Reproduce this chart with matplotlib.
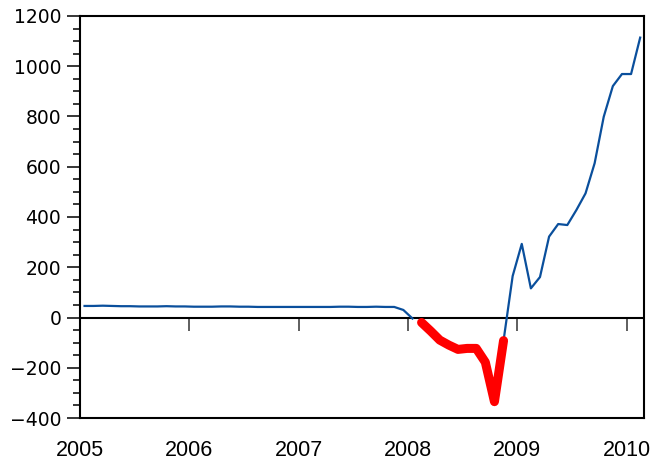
import matplotlib
matplotlib.use('Agg')
import matplotlib.pyplot as plt
from matplotlib.ticker import MultipleLocator
import numpy as np

# monthly series, Jan 2005 .. Feb 2010
months = np.arange(62)
values = [46, 46, 47, 46, 45, 45, 44, 44, 44, 45, 44, 44,
          43, 43, 43, 44, 44, 43, 43, 42, 42, 42, 42, 42,
          42, 42, 42, 42, 43, 43, 42, 42, 43, 42, 42, 30,
          -4, -20, -54, -90, -110, -127, -123, -123, -178, -335, -92, 165,
          293, 116, 161, 322, 372, 368, 428, 494, 614, 799, 921, 969,
          969, 1114]
neg_start = 37   # first month drawn in red
neg_end = 46     # last month drawn in red
year_ticks = [2005, 2006, 2007, 2008, 2009, 2010]

years = 2005 + (months + 0.5) / 12
vals = np.array(values, dtype=float)
blue = vals.copy()
blue[neg_start:neg_end] = np.nan
red = np.full_like(vals, np.nan)
red[neg_start:neg_end + 1] = vals[neg_start:neg_end + 1]

fig = plt.figure(figsize=(6.56, 4.63), dpi=100)
ax = fig.add_axes([80 / 656, 1 - 418 / 463, 564 / 656, 402 / 463])
ax.plot(years, blue, color='#0a4f9c', lw=1.6)
ax.plot(years, red, color='#ff0000', lw=6.5,
        solid_capstyle='round', solid_joinstyle='round')
ax.axhline(0, color='black', lw=1.5, zorder=1)

ax.set_xlim(2005, 2010.16)
ax.set_ylim(-400, 1200)
for sp in ax.spines.values():
    sp.set_linewidth(1.5)

ax.set_yticks(np.arange(-400, 1201, 200))
ax.yaxis.set_minor_locator(MultipleLocator(50))
ax.tick_params(axis='y', which='major', length=9.5, width=1.1,
               direction='out', labelsize=13.5, pad=4)
ax.tick_params(axis='y', which='minor', length=5, width=1.1, direction='out')

ax.set_xticks(year_ticks)
ax.set_xticklabels([str(y) for y in year_ticks], fontfamily='Liberation Sans')
ax.tick_params(axis='x', length=0, pad=16, labelsize=15.5)

# year ticks sitting on the zero line
zero_pos = (0 - (-400)) / (1200 - (-400))
sec = ax.secondary_xaxis(zero_pos)
sec.set_xticks(year_ticks[1:])
sec.tick_params(length=9.5, width=1.1, direction='out', color='#333333',
                labelbottom=False, labeltop=False)
for sp in sec.spines.values():
    sp.set_visible(False)

fig.savefig('out.png', dpi=100)
